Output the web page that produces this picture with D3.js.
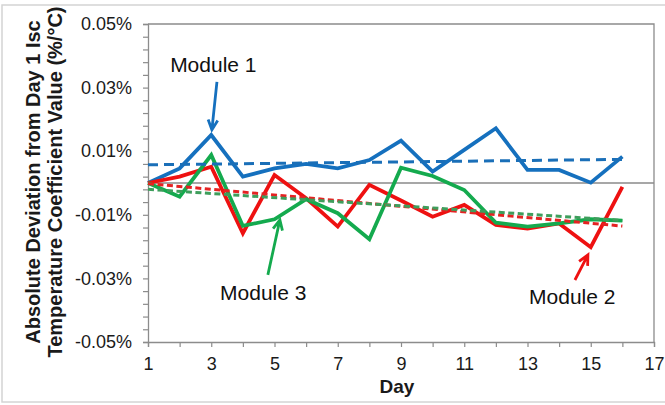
<!DOCTYPE html>
<html><head><meta charset="utf-8">
<script src="https://cdn.jsdelivr.net/npm/d3@7"></script>
<style>
body{margin:0;background:#fff;}
svg{display:block;font-family:"Liberation Sans",Arial,sans-serif;}
</style></head>
<body><svg id="c" width="665" height="405"></svg>
<script>
const days = d3.range(1, 17);
const module1 = [0, 0.0046, 0.0151, 0.0020, 0.0046, 0.0060, 0.0046, 0.0072, 0.0133, 0.0036, 0.0104, 0.0172, 0.0041, 0.0041, 0.0001, 0.0083];
const module2 = [0, 0.0020, 0.0051, -0.0158, 0.0025, -0.0048, -0.0137, -0.0006, -0.0055, -0.0106, -0.0069, -0.0132, -0.0143, -0.0127, -0.0202, -0.0012];
const module3 = [0, -0.0043, 0.0088, -0.0135, -0.0114, -0.0051, -0.0095, -0.0177, 0.0048, 0.0022, -0.0022, -0.0125, -0.0137, -0.0127, -0.0114, -0.0118];
const yTickLabels = [-0.05, -0.03, -0.01, 0.01, 0.03, 0.05];
const xTickLabels = [1, 3, 5, 7, 9, 11, 13, 15, 17];
const seriesNames = ["Module 1", "Module 2", "Module 3"];
const colors = ["#1570BE", "#EE1111", "#14AA4E"];
const trendColors = ["#1A6FB8", "#E52222", "#3E9E5C"];
// annotations: text position (day, value) and arrow tail/tip (day, value)
const annText = [[1.70, 0.0349], [13.05, -0.0381], [3.28, -0.0368]];
const annTail = [[3.18, 0.0318], [14.50, -0.0305], [4.79, -0.0289]];
const annTip  = [[3.02, 0.0167], [14.91, -0.0226], [5.17, -0.0116]];

const svg = d3.select("#c");
const L = 148, R = 654, T = 24, B = 342;
const x = d3.scaleLinear().domain([1, 17]).range([L, R]);
const y = d3.scaleLinear().domain([-0.05, 0.05]).range([B, T]);

// outer chart border
svg.append("rect").attr("x", 2).attr("y", 5).attr("width", 680).attr("height", 397)
  .attr("fill", "#fff").attr("stroke", "#d4d4d4").attr("stroke-width", 1.5);

// plot border (top/right)
svg.append("path").attr("d", `M${L},${T}H${R}V${B}`).attr("fill", "none")
  .attr("stroke", "#8c8c8c").attr("stroke-width", 1.3);

// zero gridline
svg.append("line").attr("x1", L).attr("x2", R).attr("y1", y(0)).attr("y2", y(0))
  .attr("stroke", "#8a8a8a").attr("stroke-width", 1.5);

const fmt = v => v.toFixed(2) + "%";
const minorY = d3.range(0, 26).map(i => -0.05 + i * 0.004);
const isMajor = v => yTickLabels.some(t => Math.abs(t - v) < 1e-9);

const yAxis = d3.axisLeft(y).tickValues(minorY).tickSize(5).tickPadding(11)
  .tickFormat(v => isMajor(v) ? fmt(v) : "");
const gy = svg.append("g").attr("transform", `translate(${L},0)`).call(yAxis);
const xAxis = d3.axisBottom(x).tickValues(d3.range(1, 18)).tickSize(5).tickPadding(10)
  .tickFormat(v => xTickLabels.includes(v) ? String(v) : "");
const gx = svg.append("g").attr("transform", `translate(0,${B})`).call(xAxis);
[gx, gy].forEach(g => {
  g.select(".domain").attr("stroke", "#8c8c8c").attr("stroke-width", 1.3);
  g.selectAll(".tick line").attr("stroke", "#8c8c8c").attr("stroke-width", 1.2);
  g.selectAll(".tick text").attr("fill", "#1a1a1a").style("font-size", "18px")
    .style("font-family", '"Liberation Sans",Arial,sans-serif');
});

// axis titles
svg.append("text").attr("x", 397).attr("y", 393).attr("text-anchor", "middle")
  .style("font-size", "19px").style("font-weight", "bold").attr("fill", "#1a1a1a").text("Day");
const yt = svg.append("text").attr("transform", "translate(40,182) rotate(-90)")
  .attr("text-anchor", "middle").style("font-size", "20px").style("font-weight", "bold").attr("fill", "#1a1a1a");
yt.append("tspan").attr("x", 0).attr("y", 0).text("Absolute Deviation from Day 1 Isc");
yt.append("tspan").attr("x", 0).attr("y", 22).text("Temperature Coefficient Value (%/°C)");

const allSeries = [module1, module2, module3];
const line = d3.line().x((d, i) => x(days[i])).y(d => y(d));

allSeries.forEach((s, k) => {
  svg.append("path").datum(s).attr("d", line).attr("fill", "none")
    .attr("stroke", colors[k]).attr("stroke-width", 3.8).attr("stroke-linejoin", "miter");
});

// linear trendlines
function fit(vals) {
  const mx = d3.mean(days), my = d3.mean(vals);
  let sxy = 0, sxx = 0;
  days.forEach((d, i) => { sxy += (d - mx) * (vals[i] - my); sxx += (d - mx) * (d - mx); });
  const b = sxy / sxx, a = my - b * mx;
  return [days[0], days[days.length - 1]].map(d => [d, a + b * d]);
}
const dashes = ["10,6", "6,3.5", "6,3.5"];
allSeries.forEach((s, k) => {
  const pts = fit(s);
  svg.append("line").attr("x1", x(pts[0][0])).attr("y1", y(pts[0][1]))
    .attr("x2", x(pts[1][0])).attr("y2", y(pts[1][1]))
    .attr("stroke", trendColors[k]).attr("stroke-width", 3).attr("stroke-dasharray", dashes[k]);
});

// annotations
seriesNames.forEach((n, k) => {
  svg.append("text").attr("x", x(annText[k][0])).attr("y", y(annText[k][1]))
    .style("font-size", "21px").attr("fill", "#111").text(n);
  const x1 = x(annTail[k][0]), y1 = y(annTail[k][1]), x2 = x(annTip[k][0]), y2 = y(annTip[k][1]);
  const ang = Math.atan2(y2 - y1, x2 - x1), hl = 11, ha = 0.45;
  const p = `M${x1},${y1}L${x2},${y2}` +
    `M${x2 - hl * Math.cos(ang - ha)},${y2 - hl * Math.sin(ang - ha)}L${x2},${y2}` +
    `L${x2 - hl * Math.cos(ang + ha)},${y2 - hl * Math.sin(ang + ha)}`;
  svg.append("path").attr("d", p).attr("fill", "none").attr("stroke", colors[k])
    .attr("stroke-width", 2.8).attr("stroke-linejoin", "miter");
});
</script></body></html>
